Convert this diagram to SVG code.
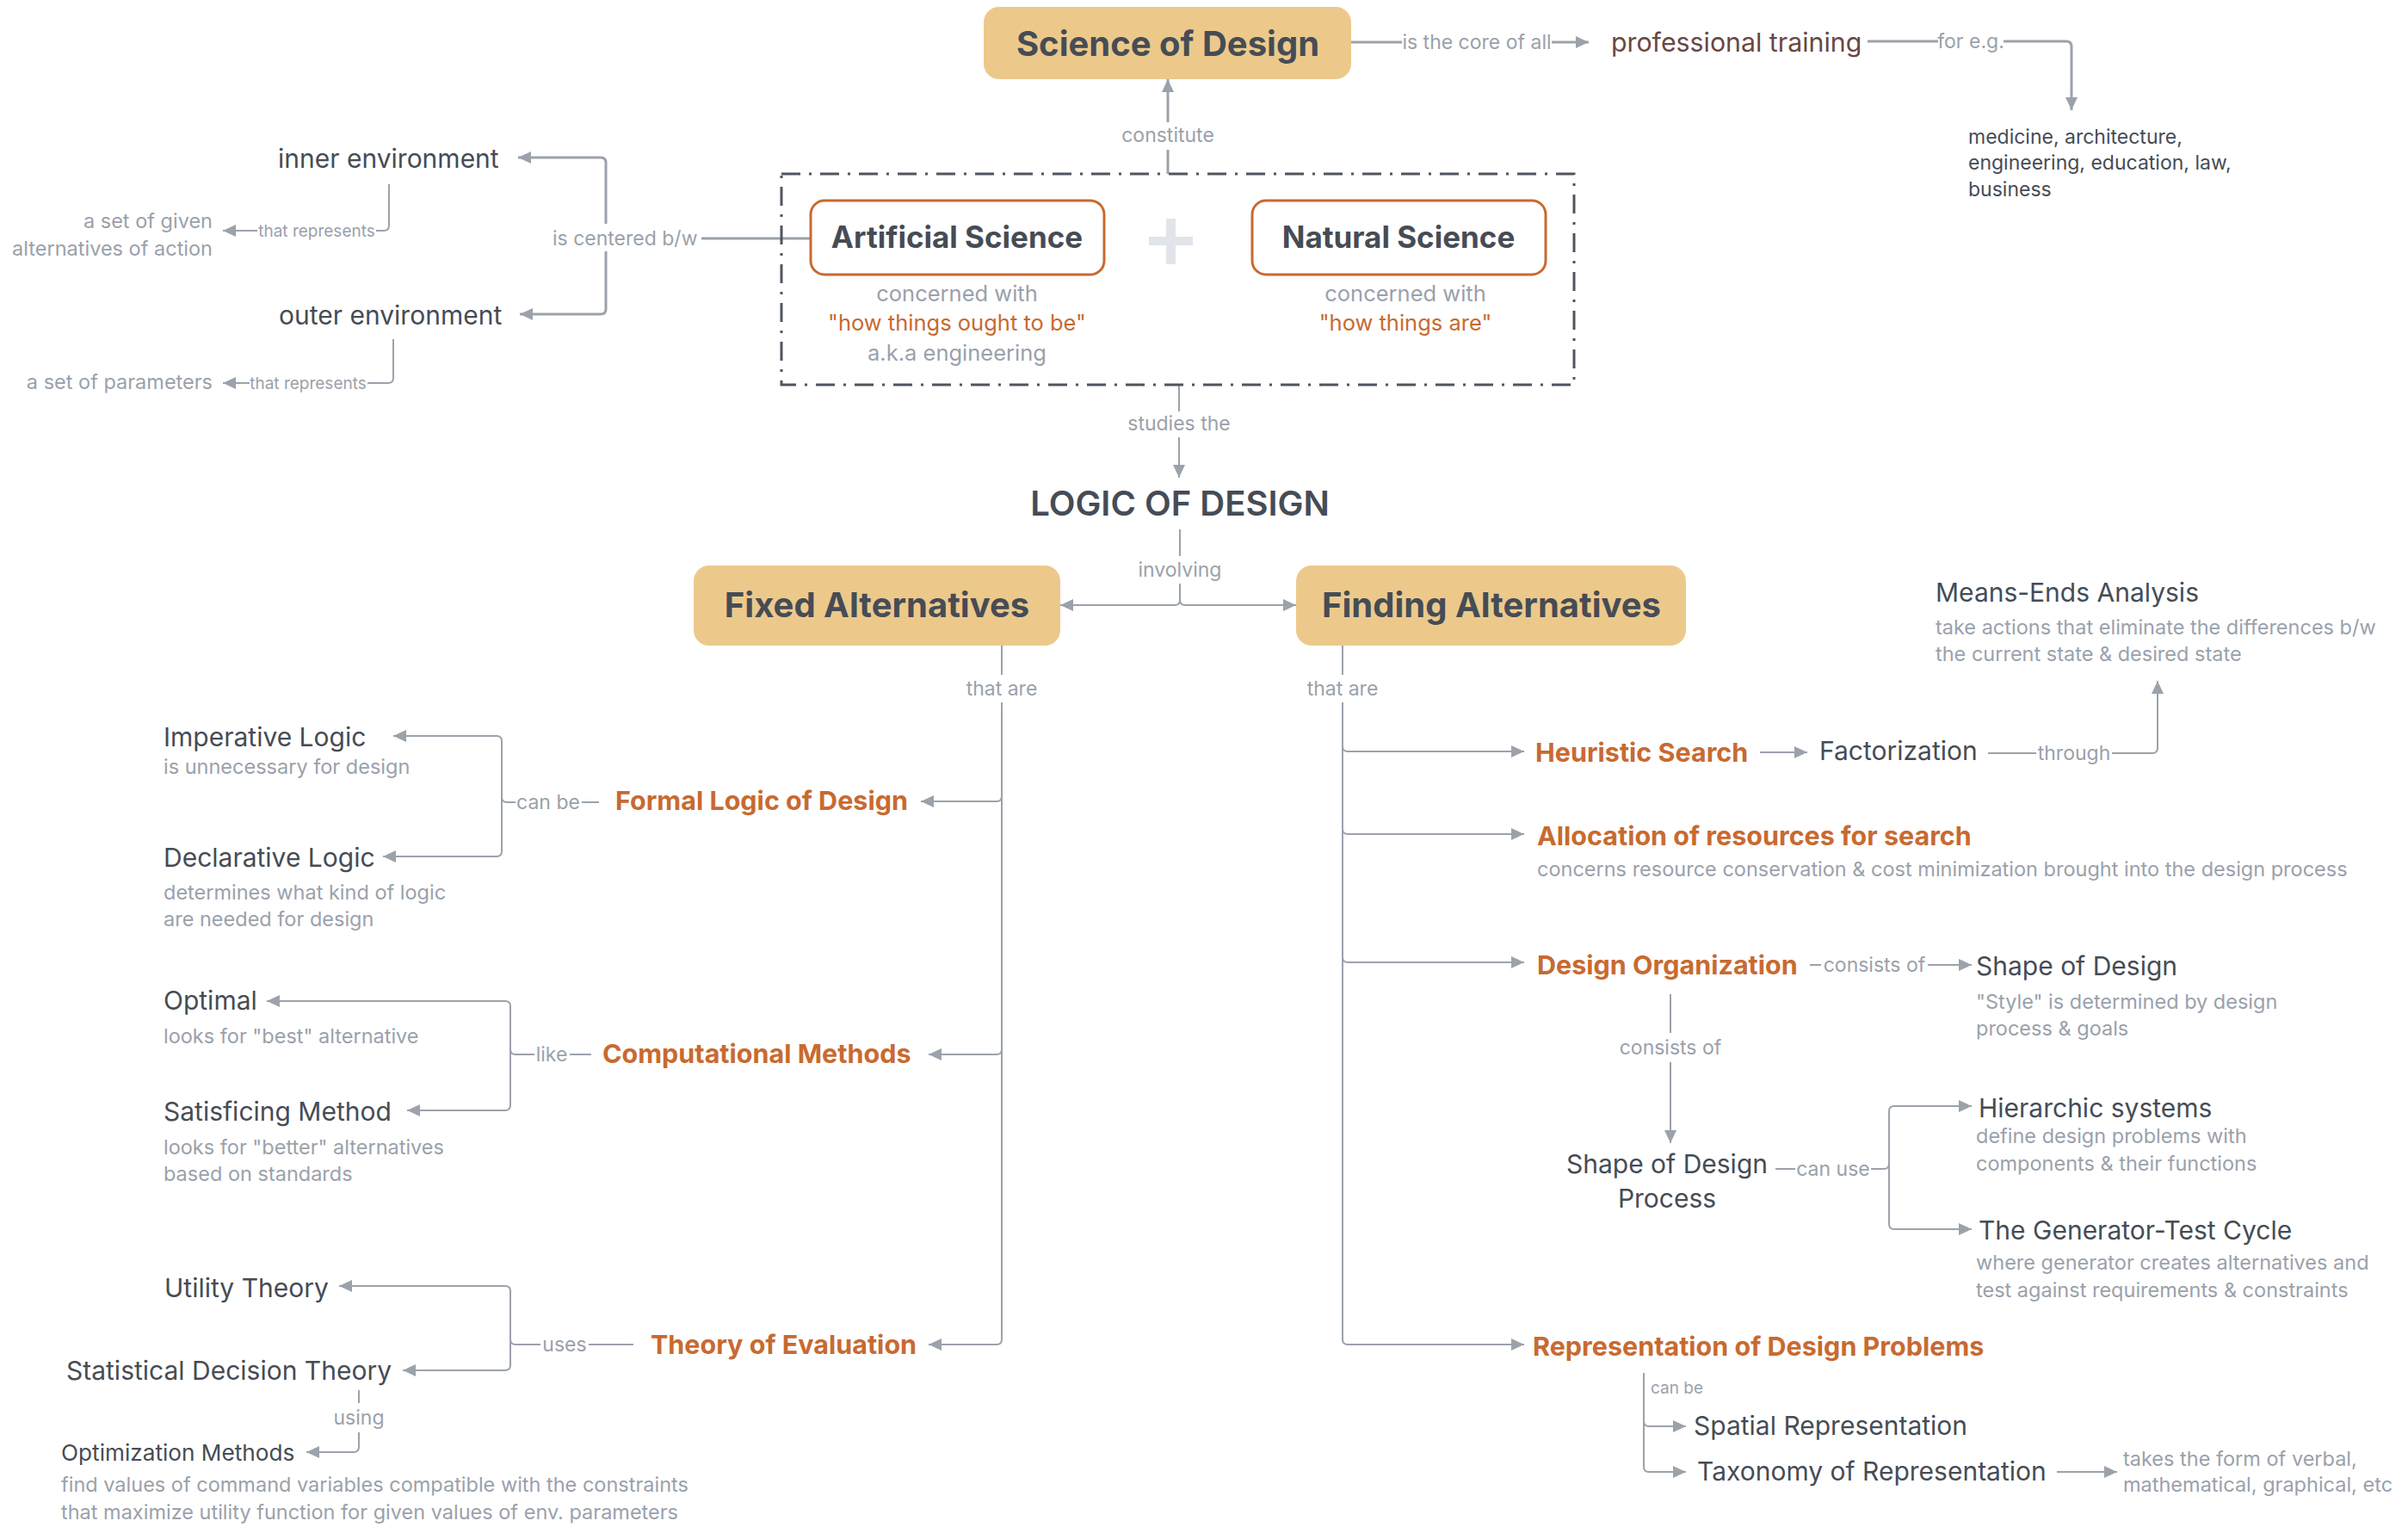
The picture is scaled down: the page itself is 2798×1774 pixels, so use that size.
<svg xmlns="http://www.w3.org/2000/svg" width="2798" height="1774" viewBox="0 0 2798 1774">
  <style>
    text { font-family: Inter, "Noto Sans", "Liberation Sans", sans-serif; }
    .box { fill: #ECC98B; }
    .sub { fill: #FFFFFF; stroke: #C86A30; stroke-width: 3; }
    .boxTitle { font-size: 40px; font-weight: 700; fill: #464C55; }
    .subTitle { font-size: 35px; font-weight: 700; fill: #464C55; }
    .main { font-size: 30px; fill: #464C55; }
    .key { font-size: 30.5px; font-weight: 700; fill: #C86A30; }
    .note { font-size: 23.5px; fill: #9AA1AB; }
    .desc { font-size: 25.5px; fill: #9AA1AB; }
    .quote { font-size: 25.5px; fill: #C86A30; }
    .list { font-size: 23px; fill: #464C55; }
    .lbl { font-size: 23px; fill: #9AA1AB; }
    .tiny { font-size: 19px; fill: #9AA1AB; }
    .mid { text-anchor: middle; }
    .end { text-anchor: end; }
    .wire { fill: none; stroke: #9CA2AB; stroke-width: 3; }
    .thin { fill: none; stroke: #9CA2AB; stroke-width: 2; }
    .frame { fill: none; stroke: #4F555E; stroke-width: 3; stroke-dasharray: 22 10 3 10; }
  </style>
  <defs>
    <marker id="arrow" markerUnits="userSpaceOnUse" markerWidth="16" markerHeight="14" refX="15" refY="7" orient="auto">
      <path d="M0,0 L15,7 L0,14 z" fill="#9CA2AB"/>
    </marker>
  </defs>

  <!-- connectors -->
  <g id="connectors">
    <!-- science of design -> professional training -->
    <path class="wire" d="M1570,49 H1629"/>
    <path class="wire" d="M1803,49 H1846" marker-end="url(#arrow)"/>
    <!-- professional training -> examples -->
    <path class="wire" d="M2170,48 H2252"/>
    <path class="wire" d="M2328,48 H2401 Q2407,48 2407,54 V128" marker-end="url(#arrow)"/>
    <!-- sciences constitute the science of design -->
    <path class="wire" d="M1357,202 V174"/>
    <path class="wire" d="M1357,142 V92" marker-end="url(#arrow)"/>
    <!-- artificial science is centered between environments -->
    <path class="wire" d="M942,277 H815"/>
    <path class="wire" d="M704,260 V189 Q704,183 698,183 H602" marker-end="url(#arrow)"/>
    <path class="wire" d="M704,292 V359 Q704,365 698,365 H604" marker-end="url(#arrow)"/>
    <!-- environments represent -->
    <path class="thin" d="M452,214 V262 Q452,268 446,268 H437"/>
    <path class="thin" d="M299,268 H259" marker-end="url(#arrow)"/>
    <path class="thin" d="M457,394 V439 Q457,445 451,445 H427"/>
    <path class="thin" d="M290,445 H259" marker-end="url(#arrow)"/>
    <!-- studies the logic of design -->
    <path class="thin" d="M1370,447 V478"/>
    <path class="thin" d="M1370,508 V555" marker-end="url(#arrow)"/>
    <!-- involving -->
    <path class="thin" d="M1371,615 V646"/>
    <path class="thin" d="M1371,678 V697 Q1371,703 1365,703 H1232" marker-end="url(#arrow)"/>
    <path class="thin" d="M1371,697 Q1371,703 1377,703 H1506" marker-end="url(#arrow)"/>
    <!-- fixed alternatives trunk -->
    <path class="thin" d="M1164,750 V784"/>
    <path class="thin" d="M1164,816 V1556 Q1164,1562 1158,1562 H1079" marker-end="url(#arrow)"/>
    <path class="thin" d="M1164,925 Q1164,931 1158,931 H1070" marker-end="url(#arrow)"/>
    <path class="thin" d="M1164,1219 Q1164,1225 1158,1225 H1079" marker-end="url(#arrow)"/>
    <!-- formal logic can be -->
    <path class="thin" d="M696,932 H676"/>
    <path class="thin" d="M599,932 H589 Q583,932 583,926 V861 Q583,855 577,855 H457" marker-end="url(#arrow)"/>
    <path class="thin" d="M583,926 V989 Q583,995 577,995 H445" marker-end="url(#arrow)"/>
    <!-- computational methods like -->
    <path class="thin" d="M687,1225 H662"/>
    <path class="thin" d="M621,1225 H599 Q593,1225 593,1219 V1169 Q593,1163 587,1163 H310" marker-end="url(#arrow)"/>
    <path class="thin" d="M593,1219 V1284 Q593,1290 587,1290 H473" marker-end="url(#arrow)"/>
    <!-- theory of evaluation uses -->
    <path class="thin" d="M736,1562 H684"/>
    <path class="thin" d="M628,1562 H599 Q593,1562 593,1556 V1500 Q593,1494 587,1494 H394" marker-end="url(#arrow)"/>
    <path class="thin" d="M593,1556 V1586 Q593,1592 587,1592 H468" marker-end="url(#arrow)"/>
    <!-- statistical decision theory using -->
    <path class="thin" d="M417,1615 V1630"/>
    <path class="thin" d="M417,1664 V1681 Q417,1687 411,1687 H356" marker-end="url(#arrow)"/>
    <!-- finding alternatives trunk -->
    <path class="thin" d="M1560,750 V784"/>
    <path class="thin" d="M1560,816 V1556 Q1560,1562 1566,1562 H1771" marker-end="url(#arrow)"/>
    <path class="thin" d="M1560,867 Q1560,873 1566,873 H1771" marker-end="url(#arrow)"/>
    <path class="thin" d="M1560,963 Q1560,969 1566,969 H1771" marker-end="url(#arrow)"/>
    <path class="thin" d="M1560,1112 Q1560,1118 1566,1118 H1771" marker-end="url(#arrow)"/>
    <!-- heuristic search -> factorization -> means-ends -->
    <path class="thin" d="M2045,874 H2100" marker-end="url(#arrow)"/>
    <path class="thin" d="M2310,875 H2366"/>
    <path class="thin" d="M2454,875 H2501 Q2507,875 2507,869 V791" marker-end="url(#arrow)"/>
    <!-- design organization consists of -->
    <path class="thin" d="M2103,1121 H2116"/>
    <path class="thin" d="M2240,1121 H2291" marker-end="url(#arrow)"/>
    <path class="thin" d="M1941,1155 V1200"/>
    <path class="thin" d="M1941,1234 V1328" marker-end="url(#arrow)"/>
    <!-- shape of design process can use -->
    <path class="thin" d="M2063,1358 H2086"/>
    <path class="thin" d="M2174,1358 H2189 Q2195,1358 2195,1352 V1291 Q2195,1285 2201,1285 H2291" marker-end="url(#arrow)"/>
    <path class="thin" d="M2195,1352 V1422 Q2195,1428 2201,1428 H2291" marker-end="url(#arrow)"/>
    <!-- representation can be -->
    <path class="thin" d="M1910,1595 V1651 Q1910,1657 1916,1657 H1959" marker-end="url(#arrow)"/>
    <path class="thin" d="M1910,1651 V1704 Q1910,1710 1916,1710 H1959" marker-end="url(#arrow)"/>
    <path class="thin" d="M2390,1710 H2460" marker-end="url(#arrow)"/>
  </g>

  <!-- connector labels -->
  <g id="connector-labels">
    <text class="lbl mid" x="1716" y="57">is the core of all</text>
    <text class="lbl mid" x="2290" y="56">for e.g.</text>
    <text class="lbl mid" x="1357" y="165">constitute</text>
    <text class="lbl" x="642" y="285">is centered b/w</text>
    <text class="tiny mid" x="368" y="275">that represents</text>
    <text class="tiny mid" x="358" y="452">that represents</text>
    <text class="lbl mid" x="1370" y="500">studies the</text>
    <text class="lbl mid" x="1371" y="670">involving</text>
    <text class="lbl mid" x="1164" y="808">that are</text>
    <text class="lbl mid" x="1560" y="808">that are</text>
    <text class="lbl mid" x="637" y="940">can be</text>
    <text class="lbl mid" x="641" y="1233">like</text>
    <text class="lbl mid" x="656" y="1570">uses</text>
    <text class="lbl mid" x="417" y="1655">using</text>
    <text class="lbl mid" x="2410" y="883">through</text>
    <text class="lbl mid" x="2178" y="1129">consists of</text>
    <text class="lbl mid" x="1941" y="1225">consists of</text>
    <text class="lbl mid" x="2130" y="1366">can use</text>
    <text class="tiny" x="1918" y="1619">can be</text>
  </g>

  <!-- top level -->
  <g id="science-of-design">
    <rect class="box" x="1143" y="8" width="427" height="84" rx="18"/>
    <text class="boxTitle mid" x="1357" y="65">Science of Design</text>
  </g>
  <g id="professional-training">
    <text x="1872" y="60" style="font-size:30.3px;fill:#6A4743">professional training</text>
  </g>
  <g id="professions">
    <text class="list" x="2287" y="167">medicine, architecture,</text>
    <text class="list" x="2287" y="197">engineering, education, law,</text>
    <text class="list" x="2287" y="228">business</text>
  </g>

  <g id="sciences">
    <rect class="frame" x="908" y="202" width="921" height="245"/>
    <path d="M1355,254 H1366 V275 H1386 V285 H1366 V307 H1355 V285 H1335 V275 H1355 z" fill="#E1E4E9"/>
  </g>
  <g id="artificial-science">
    <rect class="sub" x="942" y="233" width="341" height="86" rx="16"/>
    <text class="subTitle mid" x="1112" y="288">Artificial Science</text>
    <text class="desc mid" x="1112" y="350">concerned with</text>
    <text class="quote mid" x="1112" y="384">"how things ought to be"</text>
    <text class="desc mid" x="1112" y="419">a.k.a engineering</text>
  </g>
  <g id="natural-science">
    <rect class="sub" x="1455" y="233" width="341" height="86" rx="16"/>
    <text class="subTitle mid" x="1625" y="288">Natural Science</text>
    <text class="desc mid" x="1633" y="350">concerned with</text>
    <text class="quote mid" x="1633" y="384">"how things are"</text>
  </g>

  <g id="inner-environment">
    <text class="main" x="323" y="195">inner environment</text>
  </g>
  <g id="given-alternatives">
    <text class="note end" x="247" y="265">a set of given</text>
    <text class="note end" x="247" y="297">alternatives of action</text>
  </g>
  <g id="outer-environment">
    <text class="main" x="324" y="377">outer environment</text>
  </g>
  <g id="parameters">
    <text class="note end" x="247" y="452">a set of parameters</text>
  </g>

  <g id="logic-of-design">
    <text class="mid" x="1371" y="599" style="font-size:40px;font-weight:600;fill:#464C55">LOGIC OF DESIGN</text>
  </g>

  <g id="fixed-alternatives">
    <rect class="box" x="806" y="657" width="426" height="93" rx="18"/>
    <text class="boxTitle mid" x="1019" y="717">Fixed Alternatives</text>
  </g>
  <g id="finding-alternatives">
    <rect class="box" x="1506" y="657" width="453" height="93" rx="18"/>
    <text class="boxTitle mid" x="1733" y="717">Finding Alternatives</text>
  </g>

  <!-- fixed alternatives branch -->
  <g id="formal-logic">
    <text class="key" x="715" y="941">Formal Logic of Design</text>
  </g>
  <g id="imperative-logic">
    <text class="main" x="190" y="867">Imperative Logic</text>
    <text class="note" x="190" y="899">is unnecessary for design</text>
  </g>
  <g id="declarative-logic">
    <text class="main" x="190" y="1007">Declarative Logic</text>
    <text class="note" x="190" y="1045">determines what kind of logic</text>
    <text class="note" x="190" y="1076">are needed for design</text>
  </g>
  <g id="computational-methods">
    <text class="key" x="700" y="1235">Computational Methods</text>
  </g>
  <g id="optimal">
    <text class="main" x="190" y="1173">Optimal</text>
    <text class="note" x="190" y="1212">looks for "best" alternative</text>
  </g>
  <g id="satisficing">
    <text class="main" x="190" y="1302">Satisficing Method</text>
    <text class="note" x="190" y="1341">looks for "better" alternatives</text>
    <text class="note" x="190" y="1372">based on standards</text>
  </g>
  <g id="theory-of-evaluation">
    <text class="key" x="756" y="1573">Theory of Evaluation</text>
  </g>
  <g id="utility-theory">
    <text class="main" x="191" y="1507">Utility Theory</text>
  </g>
  <g id="statistical-decision-theory">
    <text class="main" x="77" y="1603">Statistical Decision Theory</text>
  </g>
  <g id="optimization-methods">
    <text x="71" y="1697" style="font-size:26.2px;fill:#464C55">Optimization Methods</text>
    <text class="note" x="71" y="1733">find values of command variables compatible with the constraints</text>
    <text class="note" x="71" y="1765">that maximize utility function for given values of env. parameters</text>
  </g>

  <!-- finding alternatives branch -->
  <g id="heuristic-search">
    <text class="key" x="1784" y="885">Heuristic Search</text>
  </g>
  <g id="factorization">
    <text class="main" x="2114" y="883">Factorization</text>
  </g>
  <g id="means-ends">
    <text class="main" x="2249" y="699">Means-Ends Analysis</text>
    <text class="note" x="2249" y="737">take actions that eliminate the differences b/w</text>
    <text class="note" x="2249" y="768">the current state &amp; desired state</text>
  </g>
  <g id="allocation">
    <text class="key" x="1786" y="982">Allocation of resources for search</text>
    <text class="note" x="1786" y="1018">concerns resource conservation &amp; cost minimization brought into the design process</text>
  </g>
  <g id="design-organization">
    <text class="key" x="1786" y="1132">Design Organization</text>
  </g>
  <g id="shape-of-design">
    <text class="main" x="2296" y="1133">Shape of Design</text>
    <text class="note" x="2296" y="1172">"Style" is determined by design</text>
    <text class="note" x="2296" y="1203">process &amp; goals</text>
  </g>
  <g id="shape-of-design-process">
    <text class="main mid" x="1937" y="1363">Shape of Design</text>
    <text class="main mid" x="1937" y="1403">Process</text>
  </g>
  <g id="hierarchic-systems">
    <text class="main" x="2299" y="1298">Hierarchic systems</text>
    <text class="note" x="2296" y="1328">define design problems with</text>
    <text class="note" x="2296" y="1360">components &amp; their functions</text>
  </g>
  <g id="generator-test">
    <text class="main" x="2299" y="1440">The Generator-Test Cycle</text>
    <text class="note" x="2296" y="1475">where generator creates alternatives and</text>
    <text class="note" x="2296" y="1507">test against requirements &amp; constraints</text>
  </g>
  <g id="representation">
    <text class="key" x="1781" y="1575">Representation of Design Problems</text>
  </g>
  <g id="spatial-representation">
    <text class="main" x="1968" y="1667">Spatial Representation</text>
  </g>
  <g id="taxonomy">
    <text class="main" x="1972" y="1720">Taxonomy of Representation</text>
  </g>
  <g id="forms">
    <text class="note" x="2467" y="1703">takes the form of verbal,</text>
    <text class="note" x="2467" y="1733">mathematical, graphical, etc</text>
  </g>
</svg>
